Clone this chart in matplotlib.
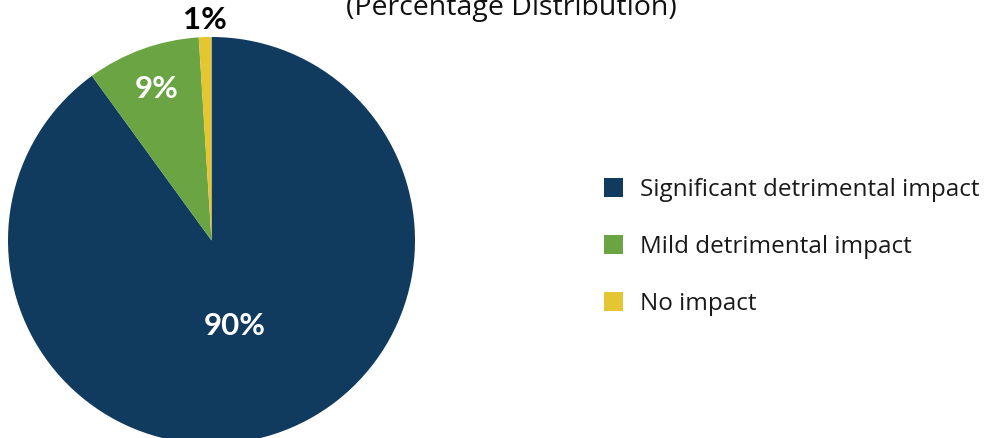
import matplotlib
matplotlib.use("Agg")
import matplotlib.pyplot as plt
from matplotlib.patches import Patch
import numpy as np

categories = ["Significant detrimental impact", "Mild detrimental impact", "No impact"]
values = [90, 9, 1]
colors = ["#103B5F", "#6AA443", "#E3C631"]
subtitle = "(Percentage Distribution)"

W, H, DPI = 988, 438, 100
fig = plt.figure(figsize=(W / DPI, H / DPI), dpi=DPI)
ax = fig.add_axes([0, 0, 1, 1])

# pie geometry in pixels
cx, cy, R = 211.5, 240.5, 203.5

ax.pie(values, colors=colors, startangle=90, counterclock=False,
       radius=1.0, center=(0, 0), frame=False,
       wedgeprops=dict(linewidth=0))
ax.set_xlim(-cx / R, (W - cx) / R)
ax.set_ylim(-(H - cy) / R, cy / R)
ax.set_aspect("equal")
ax.axis("off")

radii = [0.435, 0.79, 1.085]
txt_colors = ["white", "white", "black"]
start = 90.0
for v, r, tc in zip(values, radii, txt_colors):
    sweep = v / sum(values) * 360
    mid = np.deg2rad(start - sweep / 2 - (3 if v == 90 else 0))
    start -= sweep
    ax.text(r * np.cos(mid), r * np.sin(mid), f"{v}%", ha="center", va="center",
            color=tc, fontsize=22.5, fontweight="bold", family=["Lato", "DejaVu Sans"])

# subtitle (first line lies above the canvas)
fig.text(511 / W, 1 - 15 / H, subtitle, ha="center", va="baseline",
         fontsize=20.5, family=["Open Sans", "DejaVu Sans"], color="#111111")

handles = [Patch(facecolor=c, edgecolor="none") for c in colors]
leg = fig.legend(handles, categories, loc="center left",
                 bbox_to_anchor=(604 / W, 1 - 247 / H), frameon=False,
                 borderpad=0, borderaxespad=0,
                 handlelength=0.78, handleheight=0.78, handletextpad=0.7,
                 labelspacing=1.36,
                 prop=dict(family=["Open Sans", "DejaVu Sans"], size=17.5))
for t in leg.get_texts():
    t.set_color("#1a1a1a")

fig.savefig("out.png", dpi=DPI)
